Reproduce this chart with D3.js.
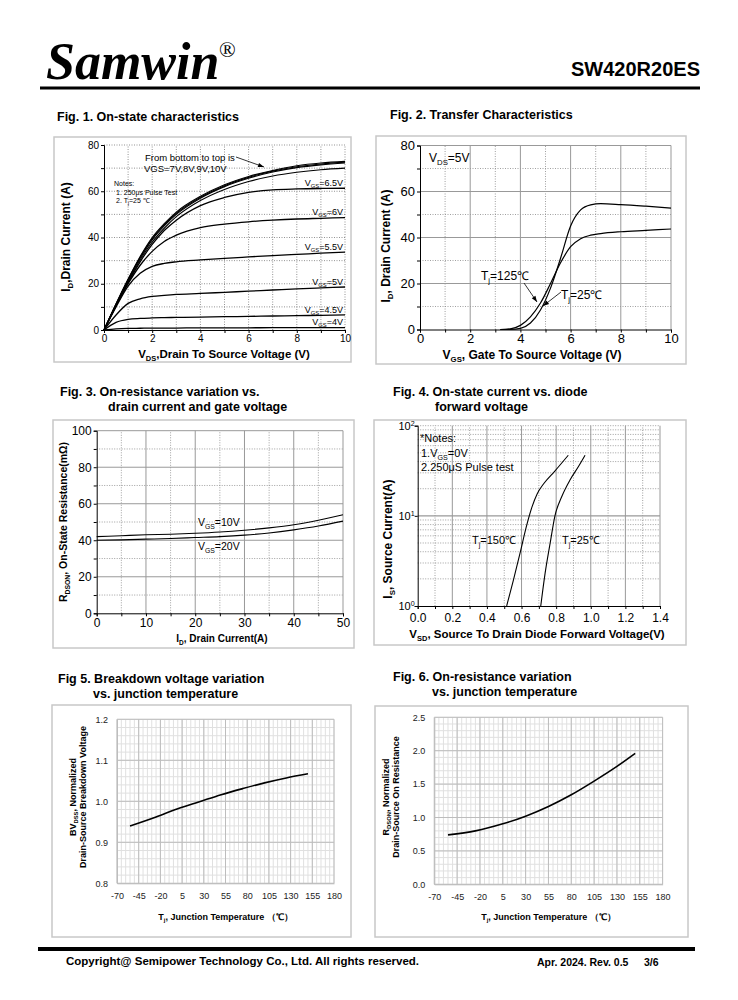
<!DOCTYPE html>
<html>
<head>
<meta charset="utf-8">
<script src="https://cdn.jsdelivr.net/npm/d3@7"></script>
<style>
  body { margin: 0; background: #fff; }
  svg { font-family: "Liberation Sans", Arial, sans-serif; }
</style>
</head>
<body>
<div id="page"></div>
<script>
// ---- Fig.1 on-state characteristics (ID vs VDS for each VGS)
const fig1Vds = [0, 0.5, 1, 1.5, 2, 2.5, 3, 4, 5, 6, 7, 8, 9, 10];
const id_vgs4 = [0, 0.5, 0.7, 0.75, 0.8, 0.8, 0.85, 0.9, 0.9, 0.95, 1, 1, 1, 1.05];
const id_vgs45 = [0, 3.3, 4.6, 5.0, 5.2, 5.35, 5.45, 5.6, 5.75, 5.9, 6.05, 6.2, 6.35, 6.5];
const id_vgs5 = [0, 6.5, 11.5, 13.5, 14.5, 15, 15.4, 15.8, 16.3, 16.8, 17.3, 17.8, 18.2, 18.6];
const id_vgs55 = [0, 10, 19, 24.5, 27.5, 28.8, 29.5, 30.3, 31, 31.6, 32.2, 32.7, 33.2, 33.7];
const id_vgs6 = [0, 10.5, 20, 28, 34, 38.3, 41, 44.3, 45.8, 46.8, 47.5, 48, 48.3, 48.6];
const id_vgs65 = [0, 10.5, 20.5, 29.5, 37, 43, 47.5, 53.8, 57.3, 59.5, 60.6, 61, 61.2, 61.3];
const id_vgs7 = [0, 11, 21, 30.3, 38, 44, 49, 56, 60.8, 64.2, 66.6, 68.2, 69.3, 70];
const id_vgs8 = [0, 11, 21.5, 31, 39, 45, 50, 57, 62, 65.6, 68.3, 70.2, 71.4, 72.2];
const id_vgs9 = [0, 11.2, 21.8, 31.4, 39.5, 45.5, 50.5, 57.4, 62.4, 66, 68.7, 70.6, 71.8, 72.6];
const id_vgs10 = [0, 11.4, 22, 31.8, 40, 46, 51, 57.8, 62.8, 66.4, 69, 71, 72.2, 72.9];
const fig1XTicks = [0, 2, 4, 6, 8, 10];
const fig1YTicks = [0, 20, 40, 60, 80];

// ---- Fig.2 transfer characteristics
const fig2Vgs = [3.2, 3.6, 4.0, 4.4, 4.8, 5.2, 5.6, 6.0, 6.4, 6.8, 7.2, 8, 9, 10];
const id_tj125 = [0, 0.3, 1.8, 5.5, 11.5, 20, 29, 36, 39.5, 41, 41.7, 42.5, 43.1, 43.7];
const id_tj25 = [0, 0.05, 0.5, 2.8, 8.5, 18, 31, 45, 52, 54.2, 54.7, 54.3, 53.6, 52.8];
const fig2XTicks = [0, 2, 4, 6, 8, 10];
const fig2YTicks = [0, 20, 40, 60, 80];

// ---- Fig.3 RDS(on) vs ID
const fig3Id = [0, 5, 10, 15, 20, 25, 30, 35, 40, 45, 50];
const rds_vgs10 = [42, 42.5, 43, 43.3, 43.8, 44.5, 45.5, 46.8, 48.5, 51, 54];
const rds_vgs20 = [40, 40.2, 40.6, 41, 41.5, 42, 42.8, 44, 45.7, 47.8, 50.5];
const fig3XTicks = [0, 10, 20, 30, 40, 50];
const fig3YTicks = [0, 20, 40, 60, 80, 100];

// ---- Fig.4 body diode forward
const vsd_tj150 = [0.514, 0.553, 0.591, 0.630, 0.66, 0.69, 0.73, 0.79, 0.87];
const is_tj150 = [1, 1.94, 3.84, 7.9, 12.5, 17.5, 23, 31, 47];
const vsd_tj25 = [0.711, 0.736, 0.765, 0.793, 0.832, 0.880, 0.928, 0.967];
const is_tj25 = [1, 2.3, 4.95, 10, 16.3, 25, 35, 47];
const fig4XTicks = [0, 0.2, 0.4, 0.6, 0.8, 1.0, 1.2, 1.4];
const fig4YTicks = [1, 10, 100];

// ---- Fig.5 / Fig.6 vs junction temperature
const tempTicks = [-70, -45, -20, 5, 30, 55, 80, 105, 130, 155, 180];
const fig5Temp = [-55, -25, 0, 25, 50, 75, 100, 125, 150];
const bvNorm = [0.940, 0.962, 0.982, 0.999, 1.016, 1.031, 1.045, 1.057, 1.067];
const fig5YTicks = [0.8, 0.9, 1.0, 1.1, 1.2];
const fig6Temp = [-55, -25, 5, 30, 55, 80, 105, 130, 150];
const rdsNorm = [0.74, 0.80, 0.905, 1.02, 1.165, 1.34, 1.545, 1.765, 1.96];
const fig6YTicks = [0.0, 0.5, 1.0, 1.5, 2.0, 2.5];

const FONT = "'Liberation Sans', Arial, sans-serif";

const svg = d3.select("#page").append("svg")
    .attr("width", 738)
    .attr("height", 1000);

// text with sub/superscript parts: ["V", ["GS","sub"], "=5V"]
function richText(parent, x, y, parts, size, opts) {
    opts = opts || {};
    const t = parent.append("text")
        .attr("x", x).attr("y", y)
        .attr("font-size", size)
        .attr("font-weight", opts.bold ? "bold" : null)
        .attr("text-anchor", opts.anchor || "start")
        .attr("fill", opts.fill || "#000");
    if (opts.rotate) t.attr("transform", "rotate(-90," + x + "," + y + ")");
    let shift = 0;
    parts.forEach(p => {
        const s = t.append("tspan");
        if (typeof p === "string") {
            s.attr("dy", -shift).text(p);
            shift = 0;
        } else {
            const d = p[1] === "sub" ? size * 0.25 : -size * 0.35;
            s.attr("dy", d - shift).attr("font-size", size * 0.65).text(p[0]);
            shift = d;
        }
    });
    return t;
}

function frame(x0, y0, x1, y1) {
    svg.append("rect")
        .attr("x", x0).attr("y", y0)
        .attr("width", x1 - x0).attr("height", y1 - y0)
        .attr("fill", "none")
        .attr("stroke", "#c8c8c8")
        .attr("stroke-width", 1.5);
}

function vLines(g, x, y, vals, stroke, dash, w) {
    g.selectAll(null).data(vals).enter().append("line")
        .attr("x1", d => x(d)).attr("x2", d => x(d))
        .attr("y1", y.range()[0]).attr("y2", y.range()[1])
        .attr("stroke", stroke).attr("stroke-width", w || 0.8)
        .attr("stroke-dasharray", dash);
}

function hLines(g, x, y, vals, stroke, dash, w) {
    g.selectAll(null).data(vals).enter().append("line")
        .attr("y1", d => y(d)).attr("y2", d => y(d))
        .attr("x1", x.range()[0]).attr("x2", x.range()[1])
        .attr("stroke", stroke).attr("stroke-width", w || 0.8)
        .attr("stroke-dasharray", dash);
}

function styleAxis(sel, size, color) {
    sel.attr("font-family", FONT);
    sel.selectAll("text").attr("font-size", size).attr("fill", color || "#000");
    sel.select("path.domain").attr("stroke", color || "#000");
    sel.selectAll(".tick line").attr("stroke", color || "#000");
}

function arrow(x1, y1, x2, y2) {
    svg.append("line")
        .attr("x1", x1).attr("y1", y1).attr("x2", x2).attr("y2", y2)
        .attr("stroke", "#000").attr("stroke-width", 0.8);
    const a = Math.atan2(y2 - y1, x2 - x1), L = 6, W = 2.2;
    const p = [[x2, y2],
        [x2 - L * Math.cos(a) + W * Math.sin(a), y2 - L * Math.sin(a) - W * Math.cos(a)],
        [x2 - L * Math.cos(a) - W * Math.sin(a), y2 - L * Math.sin(a) + W * Math.cos(a)]];
    svg.append("polygon").attr("points", p.map(d => d.join(",")).join(" ")).attr("fill", "#000");
}

const zip = (xs, ys) => xs.map((v, i) => [v, ys[i]]);

// ================= header =================
svg.append("text").attr("x", 46).attr("y", 79)
    .attr("font-family", "'Liberation Serif', 'Times New Roman', serif")
    .attr("font-style", "italic").attr("font-weight", "bold")
    .attr("font-size", 52).text("Samwin");
svg.append("text").attr("x", 219).attr("y", 57)
    .attr("font-family", "'Liberation Serif', serif")
    .attr("font-size", 22).text("®");
svg.append("text").attr("x", 700).attr("y", 76).attr("text-anchor", "end")
    .attr("font-weight", "bold").attr("font-size", 20).text("SW420R20ES");
svg.append("line").attr("x1", 40).attr("x2", 700).attr("y1", 88).attr("y2", 88)
    .attr("stroke", "#000").attr("stroke-width", 3);

// ================= Fig.1 =================
svg.append("text").attr("x", 57).attr("y", 121).attr("font-weight", "bold")
    .attr("font-size", 12.5).text("Fig. 1. On-state characteristics");
frame(54, 137, 351, 362);
{
    const x = d3.scaleLinear().domain([0, 10]).range([104, 345]);
    const y = d3.scaleLinear().domain([0, 80]).range([330, 145]);
    const g = svg.append("g");
    vLines(g, x, y, d3.range(1, 11), "#777", "1,1.5");
    hLines(g, x, y, d3.range(10, 81, 10), "#777", "1,1.5");

    const line = d3.line().x(d => x(d[0])).y(d => y(d[1])).curve(d3.curveMonotoneX);
    const series = [id_vgs4, id_vgs45, id_vgs5, id_vgs55, id_vgs6, id_vgs65, id_vgs7, id_vgs8, id_vgs9, id_vgs10];
    g.selectAll(null).data(series).enter().append("path")
        .attr("d", s => line(zip(fig1Vds, s)))
        .attr("fill", "none").attr("stroke", "#000")
        .attr("stroke-width", (s, i) => i >= 6 ? 1.1 : 1.3);

    const ax = svg.append("g").attr("transform", "translate(0," + y(0) + ")")
        .call(d3.axisBottom(x).tickValues(d3.range(0, 11)).tickSize(3).tickPadding(2)
            .tickFormat(d => fig1XTicks.includes(d) ? d : ""));
    styleAxis(ax, 10);
    const ay = svg.append("g").attr("transform", "translate(" + x(0) + ",0)")
        .call(d3.axisLeft(y).tickValues(d3.range(0, 81, 10)).tickSize(3).tickPadding(2)
            .tickFormat(d => fig1YTicks.includes(d) ? d : ""));
    styleAxis(ay, 10);

    richText(svg, 224, 358, ["V", ["DS", "sub"], ",Drain To Source Voltage (V)"], 11.5, { bold: true, anchor: "middle" });
    richText(svg, 70, 237, ["I", ["D", "sub"], ",Drain Current (A)"], 12, { bold: true, anchor: "middle", rotate: true });

    const lab = [["=6.5V", 186], ["=6V", 215], ["=5.5V", 250], ["=5V", 285], ["=4.5V", 313], ["=4V", 325]];
    lab.forEach(l => richText(svg, 343, l[1], ["V", ["GS", "sub"], l[0]], 9, { anchor: "end" }));

    svg.append("text").attr("x", 145).attr("y", 161).attr("font-size", 9.5).text("From bottom to top is");
    svg.append("text").attr("x", 144).attr("y", 172).attr("font-size", 9.5).text("VGS=7V,8V,9V,10V");
    arrow(236, 157, 264, 167);
    svg.append("text").attr("x", 114).attr("y", 186).attr("font-size", 7).text("Notes:");
    svg.append("text").attr("x", 116).attr("y", 194.5).attr("font-size", 7).text("1. 250\u03bcs  Pulse Test");
    richText(svg, 116, 203, ["2. T", ["j", "sub"], "=25 \u2103"], 7);
}

// ================= Fig.2 =================
svg.append("text").attr("x", 390).attr("y", 119).attr("font-weight", "bold")
    .attr("font-size", 12.5).text("Fig. 2. Transfer Characteristics");
frame(376, 136, 686, 364);
{
    const x = d3.scaleLinear().domain([0, 10]).range([420, 671]);
    const y = d3.scaleLinear().domain([0, 80]).range([329.5, 145.5]);
    const g = svg.append("g");
    vLines(g, x, y, [1, 3, 5, 7, 9], "#888", "1,1.5");
    hLines(g, x, y, [10, 30, 50, 70], "#888", "1,1.5");
    vLines(g, x, y, [2, 4, 6, 8, 10], "#999", null, 1);
    hLines(g, x, y, [20, 40, 60, 80], "#999", null, 1);

    const line = d3.line().x(d => x(d[0])).y(d => y(d[1])).curve(d3.curveMonotoneX);
    [id_tj125, id_tj25].forEach(s => {
        g.append("path").attr("d", line(zip(fig2Vgs, s)))
            .attr("fill", "none").attr("stroke", "#000").attr("stroke-width", 1.2);
    });

    const ax = svg.append("g").attr("transform", "translate(0," + y(0) + ")")
        .call(d3.axisBottom(x).tickValues(d3.range(0, 11)).tickSize(3).tickPadding(1)
            .tickFormat(d => fig2XTicks.includes(d) ? d : ""));
    styleAxis(ax, 13);
    const ay = svg.append("g").attr("transform", "translate(" + x(0) + ",0)")
        .call(d3.axisLeft(y).tickValues(d3.range(0, 81, 10)).tickSize(3).tickPadding(2)
            .tickFormat(d => fig2YTicks.includes(d) ? d : ""));
    styleAxis(ay, 13);

    richText(svg, 532, 359, ["V", ["GS", "sub"], ",  Gate To Source Voltage (V)"], 12, { bold: true, anchor: "middle" });
    richText(svg, 390, 246, ["I", ["D", "sub"], ",  Drain Current (A)"], 12, { bold: true, anchor: "middle", rotate: true });
    richText(svg, 429, 162, ["V", ["DS", "sub"], "=5V"], 12);
    richText(svg, 481, 280, ["T", ["j", "sub"], "=125\u2103"], 12);
    richText(svg, 561, 299, ["T", ["j", "sub"], "=25\u2103"], 12);
    arrow(524, 283, 537, 302);
    arrow(561, 292, 543, 306);
}

// ================= Fig.3 =================
svg.append("text").attr("x", 60).attr("y", 396).attr("font-weight", "bold")
    .attr("font-size", 12.5).text("Fig. 3. On-resistance variation vs.");
svg.append("text").attr("x", 108).attr("y", 411).attr("font-weight", "bold")
    .attr("font-size", 12.5).text("drain current and gate voltage");
frame(53, 420, 354, 648);
{
    const x = d3.scaleLinear().domain([0, 50]).range([96.7, 343]);
    const y = d3.scaleLinear().domain([0, 100]).range([613.3, 430.7]);
    const g = svg.append("g");
    vLines(g, x, y, [5, 15, 25, 35, 45], "#888", "1,1.5");
    hLines(g, x, y, [10, 30, 50, 70, 90], "#888", "1,1.5");
    vLines(g, x, y, [10, 20, 30, 40, 50], "#999", null, 1);
    hLines(g, x, y, [20, 40, 60, 80, 100], "#999", null, 1);

    const line = d3.line().x(d => x(d[0])).y(d => y(d[1])).curve(d3.curveMonotoneX);
    [rds_vgs10, rds_vgs20].forEach(s => {
        g.append("path").attr("d", line(zip(fig3Id, s)))
            .attr("fill", "none").attr("stroke", "#000").attr("stroke-width", 1.1);
    });

    const ax = svg.append("g").attr("transform", "translate(0," + y(0) + ")")
        .call(d3.axisBottom(x).tickValues(d3.range(0, 51, 5)).tickSize(3).tickPadding(2)
            .tickFormat(d => fig3XTicks.includes(d) ? d : ""));
    styleAxis(ax, 12);
    const ay = svg.append("g").attr("transform", "translate(" + x(0) + ",0)")
        .call(d3.axisLeft(y).tickValues(d3.range(0, 101, 10)).tickSize(3).tickPadding(2)
            .tickFormat(d => fig3YTicks.includes(d) ? d : ""));
    styleAxis(ay, 12);

    richText(svg, 222, 642, ["I", ["D", "sub"], ", Drain Current(A)"], 10, { bold: true, anchor: "middle" });
    richText(svg, 67, 522, ["R", ["DSON", "sub"], ", On-State Resistance(m\u03a9)"], 10.5, { bold: true, anchor: "middle", rotate: true });
    richText(svg, 198, 526, ["V", ["GS", "sub"], "=10V"], 10.5);
    richText(svg, 198, 550, ["V", ["GS", "sub"], "=20V"], 10.5);
}

// ================= Fig.4 =================
svg.append("text").attr("x", 393).attr("y", 396).attr("font-weight", "bold")
    .attr("font-size", 12.5).text("Fig. 4. On-state current vs. diode");
svg.append("text").attr("x", 435).attr("y", 411).attr("font-weight", "bold")
    .attr("font-size", 12.5).text("forward voltage");
frame(374, 420, 686, 645);
{
    const x = d3.scaleLinear().domain([0, 1.4]).range([417.7, 660]);
    const y = d3.scaleLog().domain([1, 100]).range([606, 425.7]);
    const g = svg.append("g");
    const minorLog = [2, 3, 4, 5, 6, 7, 8, 9, 20, 30, 40, 50, 60, 70, 80, 90, 100];
    vLines(g, x, y, [0.1, 0.3, 0.5, 0.7, 0.9, 1.1, 1.3], "#888", "1,1.5");
    hLines(g, x, y, minorLog, "#888", "1,1.5");
    vLines(g, x, y, [0.2, 0.4, 0.6, 0.8, 1.0, 1.2, 1.4], "#999", null, 1);
    hLines(g, x, y, [10], "#999", null, 1.2);

    const line = d3.line().x(d => x(d[0])).y(d => y(d[1])).curve(d3.curveMonotoneX);
    g.append("path").attr("d", line(zip(vsd_tj150, is_tj150)))
        .attr("fill", "none").attr("stroke", "#000").attr("stroke-width", 1.1);
    g.append("path").attr("d", line(zip(vsd_tj25, is_tj25)))
        .attr("fill", "none").attr("stroke", "#000").attr("stroke-width", 1.1);

    const ax = svg.append("g").attr("transform", "translate(0," + y(1) + ")")
        .call(d3.axisBottom(x).tickValues(d3.range(0, 1.41, 0.1)).tickSize(3).tickPadding(4)
            .tickFormat(d => fig4XTicks.some(t => Math.abs(t - d) < 1e-6) ? d3.format(".1f")(d) : ""));
    styleAxis(ax, 12);
    const ay = svg.append("g").attr("transform", "translate(" + x(0) + ",0)")
        .call(d3.axisLeft(y).tickValues(fig4YTicks).tickSize(3).tickFormat(""));
    styleAxis(ay, 12);
    fig4YTicks.forEach((v, i) => {
        richText(svg, x(0) - 3, y(v) + 4, ["10", [String(i), "sup"]], 11, { anchor: "end" });
    });

    richText(svg, 537, 638, ["V", ["SD", "sub"], ", Source To Drain Diode Forward Voltage(V)"], 11.5, { bold: true, anchor: "middle" });
    richText(svg, 392, 539, ["I", ["S", "sub"], ", Source Current(A)"], 12, { bold: true, anchor: "middle", rotate: true });
    svg.append("text").attr("x", 420).attr("y", 442).attr("font-size", 11).text("*Notes:");
    richText(svg, 421, 457, ["1.V", ["GS", "sub"], "=0V"], 11);
    svg.append("text").attr("x", 421).attr("y", 471).attr("font-size", 11).text("2.250\u03bcS Pulse test");
    richText(svg, 472, 544, ["T", ["j", "sub"], "=150\u2103"], 11);
    richText(svg, 562, 544, ["T", ["j", "sub"], "=25\u2103"], 11);
}

// ================= Fig.5 / Fig.6 (excel-style grids) =================
function tempChart(cfg) {
    const x = d3.scaleLinear().domain([-70, 180]).range(cfg.xr);
    const y = d3.scaleLinear().domain(cfg.yd).range(cfg.yr);
    const g = svg.append("g");
    const minorY = d3.range(cfg.yd[0], cfg.yd[1] + 1e-9, cfg.minorStep);
    vLines(g, x, y, d3.range(-70, 181, 5), "#e0e0e0", null, 1);
    hLines(g, x, y, minorY, "#e0e0e0", null, 1);
    vLines(g, x, y, tempTicks, "#bdbdbd", null, 1);
    hLines(g, x, y, cfg.yTicks, "#bdbdbd", null, 1);

    const line = d3.line().x(d => x(d[0])).y(d => y(d[1])).curve(d3.curveMonotoneX);
    g.append("path").attr("d", line(zip(cfg.xs, cfg.ys)))
        .attr("fill", "none").attr("stroke", "#000").attr("stroke-width", 1.6);

    const ax = svg.append("g").attr("transform", "translate(0," + cfg.yr[0] + ")")
        .call(d3.axisBottom(x).tickValues(tempTicks).tickSize(0).tickPadding(9).tickFormat(d => String(d)));
    styleAxis(ax, 9, "#222");
    ax.select("path.domain").attr("stroke", "#bdbdbd");
    const ay = svg.append("g").attr("transform", "translate(" + cfg.xr[0] + ",0)")
        .call(d3.axisLeft(y).tickValues(cfg.yTicks).tickSize(0).tickPadding(9).tickFormat(d3.format(".1f")));
    styleAxis(ay, 9, "#222");
    ay.select("path.domain").attr("stroke", "#bdbdbd");

    richText(svg, (cfg.xr[0] + cfg.xr[1]) / 2, 920, ["T", ["j", "sub"], ", Junction Temperature \uff08\u2103\uff09"], 9, { bold: true, anchor: "middle" });
    richText(svg, cfg.tx[0], 797, cfg.title1, 9, { bold: true, anchor: "middle", rotate: true });
    richText(svg, cfg.tx[1], 797, cfg.title2, 9, { bold: true, anchor: "middle", rotate: true });
}

svg.append("text").attr("x", 58).attr("y", 683).attr("font-weight", "bold")
    .attr("font-size", 12.5).text("Fig 5. Breakdown voltage variation");
svg.append("text").attr("x", 93).attr("y", 698).attr("font-weight", "bold")
    .attr("font-size", 12.5).text("vs. junction temperature");
frame(52, 705, 351, 937);
tempChart({
    xr: [117, 334], yd: [0.8, 1.2], yr: [883.3, 719.3], minorStep: 0.02,
    yTicks: fig5YTicks, xs: fig5Temp, ys: bvNorm, tx: [76, 86],
    title1: ["BV", ["DSS", "sub"], ", Normalized"],
    title2: ["Drain-Source Breakdown Voltage"]
});

svg.append("text").attr("x", 393).attr("y", 681).attr("font-weight", "bold")
    .attr("font-size", 12.5).text("Fig. 6. On-resistance variation");
svg.append("text").attr("x", 432).attr("y", 696).attr("font-weight", "bold")
    .attr("font-size", 12.5).text("vs. junction temperature");
frame(375, 706, 688, 937);
tempChart({
    xr: [434.3, 662.6], yd: [0, 2.5], yr: [884.3, 717.3], minorStep: 0.1,
    yTicks: fig6YTicks, xs: fig6Temp, ys: rdsNorm, tx: [389, 399],
    title1: ["R", ["DSON", "sub"], ", Normalized"],
    title2: ["Drain-Source On Resistance"]
});

// ================= footer =================
svg.append("line").attr("x1", 38).attr("x2", 695).attr("y1", 949).attr("y2", 949)
    .attr("stroke", "#000").attr("stroke-width", 4);
svg.append("text").attr("x", 66).attr("y", 965).attr("font-weight", "bold")
    .attr("font-size", 11.5).text("Copyright@ Semipower Technology Co., Ltd. All rights reserved.");
svg.append("text").attr("x", 537).attr("y", 966).attr("font-weight", "bold")
    .attr("font-size", 10.5).text("Apr. 2024. Rev. 0.5");
svg.append("text").attr("x", 644).attr("y", 966).attr("font-weight", "bold")
    .attr("font-size", 10.5).text("3/6");
</script>
</body>
</html>
